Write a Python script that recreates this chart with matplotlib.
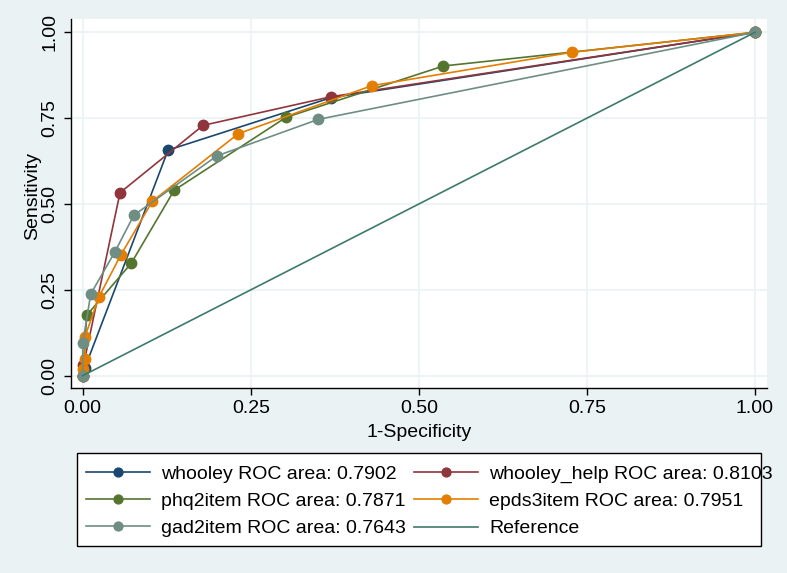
import numpy as np
import matplotlib
matplotlib.use("Agg")
import matplotlib.pyplot as plt
from matplotlib.patches import Rectangle

plt.rcParams['font.family'] = ['Liberation Sans', 'DejaVu Sans']

# ROC points (1-specificity, sensitivity)
whooley_fpr = [0, 0.003, 0.127, 0.370, 1]
whooley_tpr = [0, 0.022, 0.657, 0.810, 1]

whooley_help_fpr = [0, 0.001, 0.0555, 0.179, 0.3695, 1]
whooley_help_tpr = [0, 0.030, 0.533, 0.729, 0.8125, 1]

phq2_fpr = [0, 0.006, 0.072, 0.136, 0.3025, 0.5366, 1]
phq2_tpr = [0, 0.176, 0.327, 0.540, 0.7525, 0.902, 1]

epds3_fpr = [0, 0, 0.0034, 0.0034, 0.0243, 0.0565, 0.1036, 0.2316, 0.430, 0.728, 1]
epds3_tpr = [0, 0.019, 0.050, 0.114, 0.230, 0.351, 0.508, 0.705, 0.8445, 0.942, 1]

gad2_fpr = [0, 0, 0.0119, 0.048, 0.0759, 0.1994, 0.3506, 1]
gad2_tpr = [0, 0.094, 0.238, 0.361, 0.467, 0.640, 0.7466, 1]

ref_x = [0, 1]
ref_y = [0, 1]

labels = ["whooley ROC area: 0.7902", "whooley_help ROC area: 0.8103",
          "phq2item ROC area: 0.7871", "epds3item ROC area: 0.7951",
          "gad2item ROC area: 0.7643", "Reference"]
ticks = [0, 0.25, 0.5, 0.75, 1.0]
tick_labels = ["0.00", "0.25", "0.50", "0.75", "1.00"]

# Stata s2color
colors = ["#1A476F", "#90353B", "#55752F", "#E37E00", "#6E8E84", "#3D7A6B"]
bg = "#EAF2F3"

W, H = 787, 573
fig = plt.figure(figsize=(W / 100, H / 100), dpi=100, facecolor=bg)
ax = fig.add_axes([70.7 / W, 1 - 387.7 / H, (767 - 70.7) / W, (387.7 - 19.3) / H])
ax.set_facecolor("white")

series = [(whooley_fpr, whooley_tpr), (whooley_help_fpr, whooley_help_tpr),
          (phq2_fpr, phq2_tpr), (epds3_fpr, epds3_tpr), (gad2_fpr, gad2_tpr)]
handles = []
for (x, y), c, lab in zip(series, colors, labels):
    h, = ax.plot(x, y, color=c, lw=1.2, marker="o", ms=7.5, mec=c, mfc=c,
                 label=lab, zorder=3)
    handles.append(h)
h, = ax.plot(ref_x, ref_y, color=colors[5], lw=1.2, label=labels[5], zorder=4)
handles.append(h)

ax.set_xlim(-0.0179, 1.018)
ax.set_ylim(-0.035, 1.038)
ax.set_xticks(ticks)
ax.set_xticklabels(tick_labels)
ax.set_yticks(ticks)
ax.set_yticklabels(tick_labels, rotation=90, va="center")
ax.tick_params(axis="both", direction="out", length=5, width=1, color="black",
               labelsize=14)
ax.tick_params(axis="x", pad=4)
ax.tick_params(axis="y", pad=4)
ax.grid(True, color=bg, lw=1.2, zorder=0)
ax.set_axisbelow(True)
for s in ["top", "right"]:
    ax.spines[s].set_visible(False)
for s in ["left", "bottom"]:
    ax.spines[s].set_color("black")
    ax.spines[s].set_linewidth(1)

ax.set_xlabel("1-Specificity", fontsize=14)
ax.xaxis.set_label_coords(0.5, -0.098)
ax.set_ylabel("Sensitivity", fontsize=14)
ax.yaxis.set_label_coords(-0.043, 0.52)

# legend box (text may run past the border, like the original)
fig.patches.append(Rectangle((77.3 / W, 1 - 546 / H), (761 - 77.3) / W, (546 - 453.3) / H,
                             transform=fig.transFigure, facecolor="white",
                             edgecolor="black", lw=1, zorder=1))
order = [0, 2, 4, 1, 3, 5]
leg = fig.legend([handles[i] for i in order], [labels[i] for i in order],
                 ncol=2, loc="upper left", bbox_to_anchor=(86 / W, 1 - 465 / H),
                 frameon=False, fontsize=14, borderpad=0, borderaxespad=0,
                 handlelength=3.3, handletextpad=0.57, columnspacing=0.4,
                 labelspacing=0.5, markerscale=0.85)
leg.set_zorder(2)

fig.savefig("out.png", dpi=100, facecolor=bg)
